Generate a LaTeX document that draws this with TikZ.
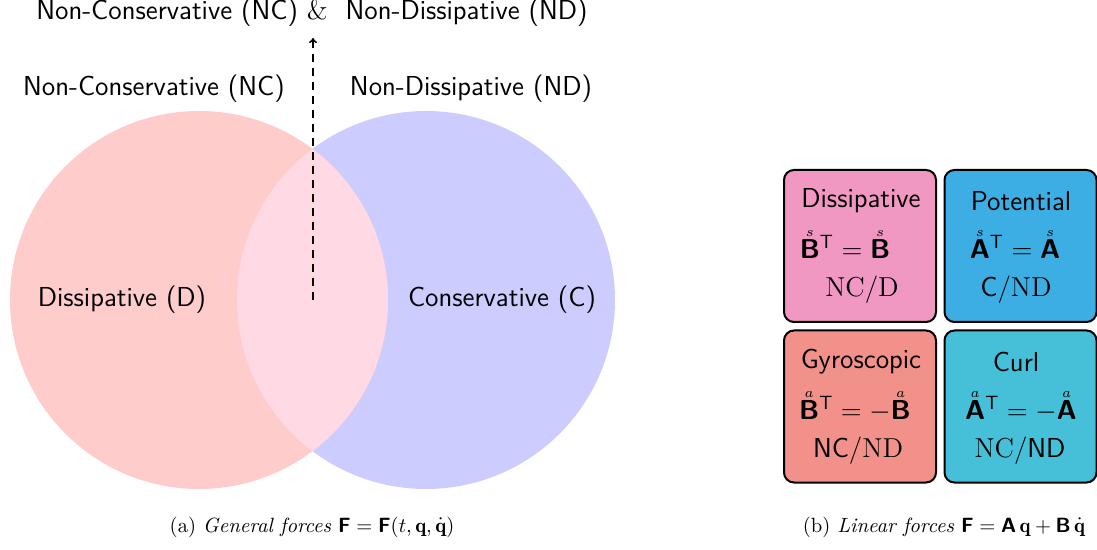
\RequirePackage{fix-cm}
\documentclass[tikz,border=0pt]{standalone}
\usepackage{amsmath}
\usepackage{fontspec}
\usetikzlibrary{arrows.meta}
\newcommand{\bsf}[1]{\text{\sffamily\bfseries #1}}
\newcommand{\acc}[2]{\overset{\raisebox{-2.5pt}{$\scriptscriptstyle #1$}}{\bsf{#2}}}
\definecolor{cleft}{RGB}{255,204,204}
\definecolor{cright}{RGB}{204,204,255}
\definecolor{cboth}{RGB}{255,217,228}
\definecolor{cdiss}{RGB}{241,152,194}
\definecolor{cpot}{RGB}{60,174,227}
\definecolor{cgyro}{RGB}{242,145,137}
\definecolor{ccurl}{RGB}{70,192,217}
\tikzset{
  lbl/.style={font=\sffamily\fontsize{13.7}{16}\selectfont, inner sep=0pt},
  boxtxt/.style={font=\sffamily\fontsize{13.7}{16}\selectfont, inner sep=0pt},
  captxt/.style={font=\fontsize{10.3}{12}\selectfont, inner sep=0pt},
  forcebox/.style={draw=black, line width=1pt, rounded corners=5pt, minimum width=76pt, minimum height=76pt, inner sep=0pt},
}
\begin{document}
\begin{tikzpicture}[x=0.5pt,y=-0.5pt]
\useasboundingbox (0,0) rectangle (1097,550);
% circles
\fill[cright] (426,300) circle (189);
\fill[cleft] (199,300) circle (189);
\begin{scope}
  \clip (199,300) circle (189);
  \fill[cboth] (426,300) circle (189);
\end{scope}
\coordinate (ctr) at (313,300);
\node[lbl] (top) at (312,13) {Non-Conservative (NC) {\rmfamily\&}\ \ Non-Dissipative (ND)};
\coordinate (tip) at (313,38);
\draw[dashed, line width=0.8pt, dash pattern=on 4pt off 3pt, -{To[length=2.5pt,width=4pt]}] (ctr) -- (tip);
\node[lbl] (nc) at (154,89) {Non-Conservative (NC)};
\node[lbl] (nd) at (471,89) {Non-Dissipative (ND)};
\node[lbl] (d) at (122,300) {Dissipative (D)};
\node[lbl] (c) at (502,300) {Conservative (C)};
% boxes
\node[forcebox, fill=cdiss] (b1) at (860,246) {};
\node[forcebox, fill=cpot] (b2) at (1020.5,246) {};
\node[forcebox, fill=cgyro] (b3) at (860,406.5) {};
\node[forcebox, fill=ccurl] (b4) at (1020.5,406.5) {};
\node[boxtxt] (t1) at (861,201) {Dissipative};
\node[boxtxt] (e1) at (845,243) {$\acc{s}{B}{}^{\mathsf{T}} = \acc{s}{B}$};
\node[boxtxt] (n1) at (862,290) {$\mathrm{NC/D}$};
\node[boxtxt] (t2) at (1021,201) {Potential};
\node[boxtxt] (e2) at (1015,243) {$\acc{s}{A}{}^{\mathsf{T}} = \acc{s}{A}$};
\node[boxtxt] (n2) at (1016,290) {\textsf{C}$/\mathrm{ND}$};
\node[boxtxt] (t3) at (861,362) {Gyroscopic};
\node[boxtxt] (e3) at (855,405) {$\acc{a}{B}{}^{\mathsf{T}} = -\acc{a}{B}$};
\node[boxtxt] (n3) at (858,451) {\textsf{NC}$/\mathrm{ND}$};
\node[boxtxt] (t4) at (1016,362) {Curl};
\node[boxtxt] (e4) at (1021,405) {$\acc{a}{A}{}^{\mathsf{T}} = -\acc{a}{A}$};
\node[boxtxt] (n4) at (1020,451) {$\mathrm{NC}/$\textsf{ND}};
% captions
\node[captxt] (capa) at (312,527) {(a)\ \textit{General forces} $\bsf{F} = \bsf{F}(t,\mathbf{q},\dot{\mathbf{q}})$};
\node[captxt] (capb) at (944,527) {(b)\ \textit{Linear forces} $\bsf{F} = \bsf{A}\,\mathbf{q} + \bsf{B}\,\dot{\mathbf{q}}$};
\end{tikzpicture}
\end{document}
